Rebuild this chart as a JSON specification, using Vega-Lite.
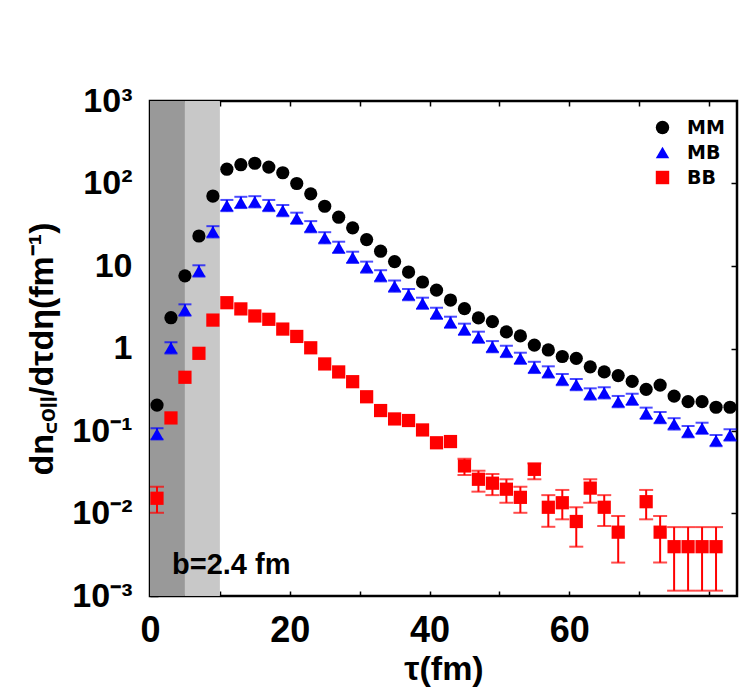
{
  "$schema": "https://vega.github.io/schema/vega-lite/v6.json",
  "width": 587,
  "height": 495,
  "autosize": "none",
  "padding": {"left": 150, "top": 101, "right": 10, "bottom": 101},
  "background": "white",
  "config": {
    "view": {"stroke": "black", "strokeWidth": 2.5},
    "axis": {"domain": false, "grid": false, "labelFont": "Liberation Sans", "labelFontWeight": "bold", "titleFont": "Liberation Sans", "titleFontWeight": "bold", "labelColor": "black", "titleColor": "black", "tickColor": "black", "tickWidth": 1.5}
  },
  "datasets": {
    "zones": [{"x0": 0, "x1": 5, "zone": "dark"}, {"x0": 5, "x1": 10, "zone": "light"}],
    "note": [{"t": 3.15, "v": 0.00185, "label": "b=2.4 fm"}],
    "pts": [
      {"s": "MM", "t": 1, "v": 0.206}, {"s": "MM", "t": 3, "v": 2.36}, {"s": "MM", "t": 5, "v": 7.6}, {"s": "MM", "t": 7, "v": 23.1},
      {"s": "MM", "t": 9, "v": 70.5}, {"s": "MM", "t": 11, "v": 149}, {"s": "MM", "t": 13, "v": 169}, {"s": "MM", "t": 15, "v": 176},
      {"s": "MM", "t": 17, "v": 158}, {"s": "MM", "t": 19, "v": 135}, {"s": "MM", "t": 21, "v": 100}, {"s": "MM", "t": 23, "v": 75},
      {"s": "MM", "t": 25, "v": 53}, {"s": "MM", "t": 27, "v": 39}, {"s": "MM", "t": 29, "v": 29}, {"s": "MM", "t": 31, "v": 20.9},
      {"s": "MM", "t": 33, "v": 15.1}, {"s": "MM", "t": 35, "v": 11.3}, {"s": "MM", "t": 37, "v": 8.45}, {"s": "MM", "t": 39, "v": 6.4},
      {"s": "MM", "t": 41, "v": 5.1}, {"s": "MM", "t": 43, "v": 3.87}, {"s": "MM", "t": 45, "v": 3.04}, {"s": "MM", "t": 47, "v": 2.35},
      {"s": "MM", "t": 49, "v": 2.12}, {"s": "MM", "t": 51, "v": 1.59}, {"s": "MM", "t": 53, "v": 1.42}, {"s": "MM", "t": 55, "v": 1.1},
      {"s": "MM", "t": 57, "v": 0.96}, {"s": "MM", "t": 59, "v": 0.8}, {"s": "MM", "t": 61, "v": 0.76}, {"s": "MM", "t": 63, "v": 0.6},
      {"s": "MM", "t": 65, "v": 0.52}, {"s": "MM", "t": 67, "v": 0.47}, {"s": "MM", "t": 69, "v": 0.4}, {"s": "MM", "t": 71, "v": 0.32},
      {"s": "MM", "t": 73, "v": 0.36}, {"s": "MM", "t": 75, "v": 0.265}, {"s": "MM", "t": 77, "v": 0.227}, {"s": "MM", "t": 79, "v": 0.227},
      {"s": "MM", "t": 81, "v": 0.194}, {"s": "MM", "t": 83, "v": 0.194},
      {"s": "MB", "t": 1, "v": 0.092, "lo": 0.079, "hi": 0.108}, {"s": "MB", "t": 3, "v": 1.02, "lo": 0.872, "hi": 1.19},
      {"s": "MB", "t": 5, "v": 2.93, "lo": 2.5, "hi": 3.43}, {"s": "MB", "t": 7, "v": 8.7, "lo": 7.44, "hi": 10.2},
      {"s": "MB", "t": 9, "v": 26, "lo": 22.2, "hi": 30.4}, {"s": "MB", "t": 11, "v": 54, "lo": 46.2, "hi": 63.2},
      {"s": "MB", "t": 13, "v": 59, "lo": 50.4, "hi": 69}, {"s": "MB", "t": 15, "v": 60, "lo": 51.3, "hi": 70.2},
      {"s": "MB", "t": 17, "v": 54, "lo": 46.2, "hi": 63.2}, {"s": "MB", "t": 19, "v": 47, "lo": 40.2, "hi": 55},
      {"s": "MB", "t": 21, "v": 37.9, "lo": 32.4, "hi": 44.3}, {"s": "MB", "t": 23, "v": 29.9, "lo": 25.6, "hi": 35},
      {"s": "MB", "t": 25, "v": 22, "lo": 18.8, "hi": 25.7}, {"s": "MB", "t": 27, "v": 16.8, "lo": 14.4, "hi": 19.7},
      {"s": "MB", "t": 29, "v": 12.7, "lo": 10.9, "hi": 14.9}, {"s": "MB", "t": 31, "v": 9.7, "lo": 8.29, "hi": 11.3},
      {"s": "MB", "t": 33, "v": 7.6, "lo": 6.5, "hi": 8.89}, {"s": "MB", "t": 35, "v": 5.7, "lo": 4.87, "hi": 6.67},
      {"s": "MB", "t": 37, "v": 4.5, "lo": 3.85, "hi": 5.27}, {"s": "MB", "t": 39, "v": 3.53, "lo": 3.02, "hi": 4.13},
      {"s": "MB", "t": 41, "v": 2.67, "lo": 2.28, "hi": 3.12}, {"s": "MB", "t": 43, "v": 2.08, "lo": 1.78, "hi": 2.43},
      {"s": "MB", "t": 45, "v": 1.71, "lo": 1.46, "hi": 2.0}, {"s": "MB", "t": 47, "v": 1.37, "lo": 1.17, "hi": 1.6},
      {"s": "MB", "t": 49, "v": 1.05, "lo": 0.9, "hi": 1.23}, {"s": "MB", "t": 51, "v": 0.92, "lo": 0.786, "hi": 1.08},
      {"s": "MB", "t": 53, "v": 0.76, "lo": 0.65, "hi": 0.889}, {"s": "MB", "t": 55, "v": 0.59, "lo": 0.504, "hi": 0.69},
      {"s": "MB", "t": 57, "v": 0.52, "lo": 0.444, "hi": 0.608}, {"s": "MB", "t": 59, "v": 0.42, "lo": 0.359, "hi": 0.491},
      {"s": "MB", "t": 61, "v": 0.365, "lo": 0.312, "hi": 0.427}, {"s": "MB", "t": 63, "v": 0.281, "lo": 0.24, "hi": 0.329},
      {"s": "MB", "t": 65, "v": 0.29, "lo": 0.248, "hi": 0.339}, {"s": "MB", "t": 67, "v": 0.227, "lo": 0.194, "hi": 0.266},
      {"s": "MB", "t": 69, "v": 0.242, "lo": 0.207, "hi": 0.283}, {"s": "MB", "t": 71, "v": 0.164, "lo": 0.14, "hi": 0.192},
      {"s": "MB", "t": 73, "v": 0.145, "lo": 0.124, "hi": 0.17}, {"s": "MB", "t": 75, "v": 0.122, "lo": 0.104, "hi": 0.143},
      {"s": "MB", "t": 77, "v": 0.098, "lo": 0.0838, "hi": 0.115}, {"s": "MB", "t": 79, "v": 0.108, "lo": 0.0923, "hi": 0.126},
      {"s": "MB", "t": 81, "v": 0.0765, "lo": 0.0654, "hi": 0.0895}, {"s": "MB", "t": 83, "v": 0.0895, "lo": 0.0765, "hi": 0.105},
      {"s": "BB", "t": 1, "v": 0.0153, "lo": 0.0102, "hi": 0.0211}, {"s": "BB", "t": 3, "v": 0.144}, {"s": "BB", "t": 5, "v": 0.448},
      {"s": "BB", "t": 7, "v": 0.874}, {"s": "BB", "t": 9, "v": 2.21}, {"s": "BB", "t": 11, "v": 3.59}, {"s": "BB", "t": 13, "v": 3.02},
      {"s": "BB", "t": 15, "v": 2.48}, {"s": "BB", "t": 17, "v": 2.26}, {"s": "BB", "t": 19, "v": 1.72}, {"s": "BB", "t": 21, "v": 1.4},
      {"s": "BB", "t": 23, "v": 1.02}, {"s": "BB", "t": 25, "v": 0.65}, {"s": "BB", "t": 27, "v": 0.52}, {"s": "BB", "t": 29, "v": 0.396},
      {"s": "BB", "t": 31, "v": 0.26}, {"s": "BB", "t": 33, "v": 0.177}, {"s": "BB", "t": 35, "v": 0.14}, {"s": "BB", "t": 37, "v": 0.134},
      {"s": "BB", "t": 39, "v": 0.103}, {"s": "BB", "t": 41, "v": 0.072}, {"s": "BB", "t": 43, "v": 0.0745},
      {"s": "BB", "t": 45, "v": 0.0377, "lo": 0.0293, "hi": 0.0461}, {"s": "BB", "t": 47, "v": 0.026, "lo": 0.0184, "hi": 0.033},
      {"s": "BB", "t": 49, "v": 0.0233, "lo": 0.0167, "hi": 0.0301}, {"s": "BB", "t": 51, "v": 0.0197, "lo": 0.0135, "hi": 0.026},
      {"s": "BB", "t": 53, "v": 0.0157, "lo": 0.0102, "hi": 0.0211}, {"s": "BB", "t": 55, "v": 0.0343, "lo": 0.026, "hi": 0.0405},
      {"s": "BB", "t": 57, "v": 0.0119, "lo": 0.0069, "hi": 0.0167}, {"s": "BB", "t": 59, "v": 0.0135, "lo": 0.0085, "hi": 0.0193},
      {"s": "BB", "t": 61, "v": 0.008, "lo": 0.00396, "hi": 0.0119}, {"s": "BB", "t": 63, "v": 0.0203, "lo": 0.0135, "hi": 0.026},
      {"s": "BB", "t": 65, "v": 0.0119, "lo": 0.00705, "hi": 0.0167}, {"s": "BB", "t": 67, "v": 0.00594, "lo": 0.00254, "hi": 0.00933},
      {"s": "BB", "t": 71, "v": 0.0139, "lo": 0.0085, "hi": 0.0193}, {"s": "BB", "t": 73, "v": 0.00594, "lo": 0.00254, "hi": 0.00933},
      {"s": "BB", "t": 75, "v": 0.00396, "lo": 0.00116, "hi": 0.00684}, {"s": "BB", "t": 77, "v": 0.00396, "lo": 0.00116, "hi": 0.00684},
      {"s": "BB", "t": 79, "v": 0.00396, "lo": 0.00116, "hi": 0.00684}, {"s": "BB", "t": 81, "v": 0.00396, "lo": 0.00116, "hi": 0.00684}
    ]
  },
  "layer": [
    {
      "data": {"name": "zones"},
      "transform": [{"filter": "datum.zone == 'dark'"}],
      "mark": {"type": "rect", "color": "#999999"},
      "encoding": {
        "x": {"field": "x0", "type": "quantitative", "scale": {"domain": [0, 84], "nice": false, "zero": false}, "axis": null},
        "x2": {"field": "x1"},
        "y": {"datum": 0.001, "type": "quantitative", "scale": {"type": "log", "domain": [0.001, 1000], "nice": false}, "axis": null},
        "y2": {"datum": 1000}
      }
    },
    {
      "data": {"name": "zones"},
      "transform": [{"filter": "datum.zone == 'light'"}],
      "mark": {"type": "rect", "color": "#c8c8c8"},
      "encoding": {
        "x": {"field": "x0", "type": "quantitative", "axis": null},
        "x2": {"field": "x1"},
        "y": {"datum": 0.001, "type": "quantitative", "axis": null},
        "y2": {"datum": 1000}
      }
    },
    {
      "data": {"name": "pts"},
      "transform": [{"filter": "datum.s == 'BB' && isValid(datum.lo)"}],
      "layer": [
        {
          "mark": {"type": "rule", "color": "#ff0000", "strokeWidth": 2},
          "encoding": {
            "x": {"field": "t", "type": "quantitative", "axis": null},
            "y": {"field": "lo", "type": "quantitative", "axis": null},
            "y2": {"field": "hi"}
          }
        },
        {
          "transform": [{"fold": ["lo", "hi"], "as": ["end", "ev"]}],
          "mark": {"type": "tick", "orient": "horizontal", "color": "#ff0000", "size": 14, "thickness": 2},
          "encoding": {
            "x": {"field": "t", "type": "quantitative", "axis": null},
            "y": {"field": "ev", "type": "quantitative", "axis": null}
          }
        }
      ]
    },
    {
      "data": {"name": "pts"},
      "transform": [{"filter": "datum.s == 'MB' && isValid(datum.lo)"}],
      "layer": [
        {
          "mark": {"type": "rule", "color": "#0000ff", "strokeWidth": 2},
          "encoding": {
            "x": {"field": "t", "type": "quantitative", "axis": null},
            "y": {"field": "lo", "type": "quantitative", "axis": null},
            "y2": {"field": "hi"}
          }
        },
        {
          "transform": [{"fold": ["lo", "hi"], "as": ["end", "ev"]}],
          "mark": {"type": "tick", "orient": "horizontal", "color": "#0000ff", "size": 13, "thickness": 2},
          "encoding": {
            "x": {"field": "t", "type": "quantitative", "axis": null},
            "y": {"field": "ev", "type": "quantitative", "axis": null}
          }
        }
      ]
    },
    {
      "data": {"name": "pts"},
      "mark": {"type": "point", "filled": true, "size": 175, "opacity": 1},
      "encoding": {
        "x": {
          "field": "t", "type": "quantitative",
          "axis": {"orient": "bottom", "values": [0, 10, 20, 30, 40, 50, 60, 70, 80], "labelExpr": "datum.value % 20 == 0 && datum.value < 80 ? datum.label : ''", "tickSize": -5, "labelPadding": 22, "labelFontSize": 36, "title": "τ(fm)", "titleFontSize": 34, "titlePadding": 4, "labelFlush": false}
        },
        "y": {
          "field": "v", "type": "quantitative",
          "axis": {
            "orient": "left",
            "values": [0.001, 0.002, 0.003, 0.004, 0.005, 0.006, 0.007, 0.008, 0.009, 0.01, 0.02, 0.03, 0.04, 0.05, 0.06, 0.07, 0.08, 0.09, 0.1, 0.2, 0.3, 0.4, 0.5, 0.6, 0.7, 0.8, 0.9, 1, 2, 3, 4, 5, 6, 7, 8, 9, 10, 20, 30, 40, 50, 60, 70, 80, 90, 100, 200, 300, 400, 500, 600, 700, 800, 900, 1000],
            "labelExpr": "datum.value == 1000 ? '10³' : datum.value == 100 ? '10²' : datum.value == 10 ? '10' : datum.value == 1 ? '1' : datum.value == 0.1 ? '10⁻¹' : datum.value == 0.01 ? '10⁻²' : datum.value == 0.001 ? '10⁻³' : ''",
            "tickSize": {"condition": {"test": "indexof([0.001, 0.01, 0.1, 1, 10, 100, 1000], datum.value) >= 0", "value": -8}, "value": -4},
            "labelPadding": 26,
            "labelFontSize": 34,
            "labelFlush": false,
            "labelOverlap": false,
            "title": "dn꜀ₒₗₗ/dτdη(fm⁻¹)",
            "titleFontSize": 34,
            "titlePadding": 12
          }
        },
        "color": {
          "field": "s", "type": "nominal",
          "scale": {"domain": ["MM", "MB", "BB"], "range": ["#000000", "#0000ff", "#ff0000"]},
          "legend": {"orient": "none", "legendX": 503, "legendY": 17, "title": null, "labelFont": "DejaVu Sans", "labelFontWeight": "bold", "labelFontSize": 19, "labelColor": "black", "symbolSize": 180, "symbolStrokeWidth": 0, "labelOffset": 15, "rowPadding": 5, "padding": 0}
        },
        "shape": {
          "field": "s", "type": "nominal",
          "scale": {"domain": ["MM", "MB", "BB"], "range": ["circle", "triangle-up", "square"]},
          "legend": {"orient": "none", "legendX": 503, "legendY": 17, "title": null, "labelFont": "DejaVu Sans", "labelFontWeight": "bold", "labelFontSize": 19, "labelColor": "black", "symbolSize": 180, "symbolStrokeWidth": 0, "labelOffset": 15, "rowPadding": 5, "padding": 0}
        }
      }
    },
    {
      "data": {"name": "note"},
      "mark": {"type": "text", "align": "left", "baseline": "alphabetic", "font": "Liberation Sans", "fontWeight": "bold", "fontSize": 29, "color": "black"},
      "encoding": {
        "x": {"field": "t", "type": "quantitative", "axis": {"orient": "top", "values": [10, 20, 30, 40, 50, 60, 70, 80], "labels": false, "tickSize": -5, "title": null}},
        "y": {"field": "v", "type": "quantitative", "axis": {"orient": "right", "values": [0.01, 0.1, 1, 10, 100], "labels": false, "tickSize": -6, "title": null}},
        "text": {"field": "label"}
      }
    }
  ],
  "resolve": {"axis": {"x": "independent", "y": "independent"}}
}
